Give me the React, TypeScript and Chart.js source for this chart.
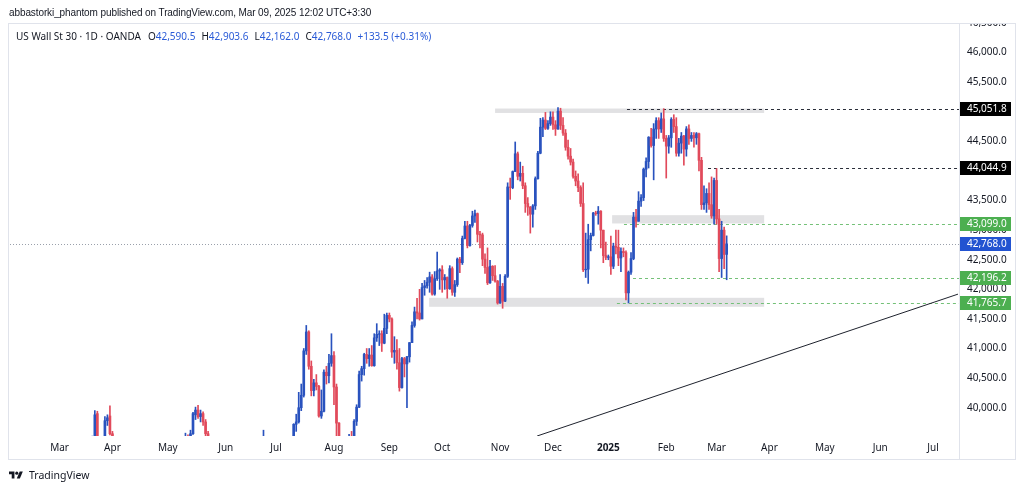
import React, { useEffect, useRef } from "react";
import { Chart, registerables } from "chart.js";

Chart.register(...registerables);

const FONT = "'Noto Sans', 'DejaVu Sans', sans-serif";
const HEAD_FONT = "'Liberation Sans', Arial, sans-serif";

// Daily bars, index 0 = 1 Mar 2024 (weekdays), last = 7 Mar 2025
const opens = [
  39000, 39090, 38990, 38590, 38660, 38790, 38720, 38770, 39000, 39040,
  38900, 38710, 38790, 39110, 39510, 39900, 39480, 39320, 39290, 39780,
  39860, 39560, 39420, 39170, 39130, 38600, 38900, 38890, 38880, 38460,
  38460, 37980, 37740, 37800, 37750, 37780, 37990, 38240, 38500, 38460,
  38090, 38240, 38390, 37820, 37900, 38230, 38680, 38850, 38880, 38890,
  39390, 39510, 39430, 39560, 39880, 39960, 39850, 39900, 39760, 39560,
  39060, 39070, 39100, 38850, 38440, 38110, 38690, 38570, 38710, 38810,
  38890, 38800, 38870, 38750, 38710, 38650, 38590, 38780, 38830, 38850,
  39130, 39150, 39410, 39110, 39130, 39160, 39120, 39170, 39330, 39310,
  39360, 39380, 39340, 39300, 39720, 39760, 40000, 40210, 40960, 41280,
  40700, 40290, 40420, 40360, 39860, 39940, 40600, 40540, 40750, 40880,
  40350, 39740, 38700, 39000, 38760, 39450, 39500, 39360, 39770, 40010,
  40560, 40660, 40900, 40830, 40890, 40710, 41180, 41240, 41250, 41090,
  41340, 41560, 41500, 40940, 40970, 40760, 40340, 40830, 40740, 40860,
  41100, 41390, 41620, 41600, 41500, 42030, 42060, 42120, 42210, 41920,
  42180, 42310, 42330, 42160, 42200, 42010, 42350, 41950, 42080, 42510,
  42450, 42860, 43070, 42740, 43080, 43240, 43280, 42930, 42920, 42510,
  42370, 42110, 42390, 42230, 42140, 41770, 42050, 41800, 42220, 43730,
  43720, 43990, 44290, 43910, 43960, 43750, 43450, 43390, 43270, 43410,
  43870, 44300, 44740, 44860, 44720, 44800, 44910, 44780, 44710, 45010,
  44770, 44640, 44400, 44250, 44150, 43910, 43830, 43720, 43450, 42330,
  42340, 42840, 42910, 43290, 43280, 43320, 43000, 42570, 42540, 42550,
  42390, 42730, 42710, 42530, 42640, 42620, 41940, 42290, 42520, 43220,
  43150, 43490, 43550, 44030, 44160, 44570, 44430, 44710, 44850, 44710,
  44880, 44550, 44420, 44560, 44870, 44750, 44300, 44470, 44590, 44370,
  44710, 44550, 44600, 44560, 44630, 44180, 43430, 43460, 43620, 43430,
  43240, 43840, 43190, 42520, 43000, 42590.5,
];
const highs = [
  39180, 39140, 39010, 38860, 38890, 39000, 38820, 39060, 39140, 39170,
  38960, 38900, 39130, 39520, 39950, 39940, 39500, 39480, 39850, 39880,
  40030, 39600, 39450, 39270, 39440, 38960, 39000, 38990, 38900, 38600,
  38470, 38400, 37920, 38000, 37990, 38000, 38300, 38530, 38560, 38470,
  38340, 38420, 38430, 38260, 38270, 38760, 38890, 38990, 38970, 39390,
  39570, 39540, 39620, 39920, 40010, 40040, 39960, 39930, 39800, 39600,
  39200, 39150, 39120, 38870, 38620, 38710, 38800, 38760, 38850, 38950,
  39000, 38900, 38900, 39100, 38760, 38660, 38800, 38860, 38900, 39200,
  39250, 39620, 39440, 39200, 39250, 39450, 39300, 39350, 39460, 39400,
  39500, 39500, 39450, 39730, 39890, 40260, 40400, 41000, 41390, 41300,
  40790, 40480, 40560, 40380, 40300, 40640, 40700, 40900, 41250, 40950,
  40400, 39750, 39250, 39450, 39470, 39550, 39600, 39800, 40050, 40620,
  40700, 40920, 41000, 41000, 41050, 41250, 41420, 41300, 41300, 41580,
  41600, 41600, 41520, 41200, 41150, 41000, 40850, 40850, 40870, 41100,
  41450, 41700, 41850, 42000, 42100, 42150, 42200, 42290, 42250, 42300,
  42630, 42350, 42400, 42250, 42210, 42400, 42380, 42150, 42530, 42540,
  42900, 43150, 43150, 43100, 43320, 43340, 43290, 42980, 42950, 42600,
  42700, 42490, 42400, 42400, 42150, 42250, 42100, 42250, 43800, 43880,
  44000, 44490, 44320, 44150, 44080, 43800, 43550, 43400, 43430, 43900,
  44330, 44890, 44900, 44990, 44850, 45000, 45000, 44850, 45070, 45060,
  44900, 44700, 44520, 44380, 44200, 44000, 43950, 43750, 43800, 42950,
  43100, 42950, 43300, 43320, 43400, 43330, 43000, 42800, 42580, 42900,
  42780, 43000, 43000, 42700, 42700, 42650, 42310, 42620, 43300, 43350,
  43650, 43600, 44050, 44220, 44580, 44720, 44800, 44900, 44900, 44980,
  45052, 44600, 44600, 44900, 44950, 44900, 44550, 44650, 44600, 44750,
  44780, 44650, 44650, 44650, 44640, 44230, 43750, 43700, 43800, 43900,
  43880, 44040, 43350, 43150, 43050, 42903.6,
];
const lows = [
  38930, 38940, 38520, 38570, 38620, 38650, 38600, 38680, 38950, 38740,
  38700, 38700, 38760, 38990, 39480, 39450, 39300, 39270, 39280, 39700,
  39540, 39380, 39080, 38990, 38570, 38500, 38800, 38650, 38360, 38230,
  37920, 37680, 37620, 37700, 37670, 37610, 37960, 38220, 38320, 37800,
  38050, 38150, 37810, 37780, 37870, 38220, 38640, 38800, 38770, 38870,
  39380, 39360, 39410, 39550, 39800, 39820, 39760, 39700, 39500, 38950,
  38960, 39000, 38750, 38400, 38050, 37990, 38380, 38540, 38600, 38750,
  38680, 38620, 38550, 38680, 38470, 38440, 38450, 38720, 38800, 38830,
  39010, 39140, 39080, 39030, 39060, 39100, 38900, 39050, 39250, 39280,
  39200, 39250, 39240, 39280, 39600, 39740, 39950, 40180, 40900, 40650,
  40200, 40200, 40300, 39840, 39820, 39930, 40400, 40420, 40700, 40050,
  39500, 38400, 38680, 38750, 38750, 39300, 39300, 39350, 39700, 40000,
  40450, 40550, 40750, 40700, 40700, 40700, 41120, 41050, 40950, 41080,
  41250, 41450, 40850, 40750, 40650, 40280, 40330, 40520, 40000, 40770,
  41100, 41360, 41500, 41480, 41500, 41900, 42020, 41950, 41900, 41900,
  42150, 42000, 41950, 42000, 41850, 42000, 41900, 41880, 42050, 42280,
  42420, 42850, 42700, 42730, 43050, 43130, 42800, 42700, 42400, 42270,
  42080, 42100, 42150, 42120, 41750, 41760, 41680, 41790, 42200, 43520,
  43700, 43990, 43850, 43830, 43700, 43300, 43250, 42950, 43050, 43350,
  43860, 44290, 44580, 44700, 44700, 44770, 44700, 44600, 44700, 44700,
  44600, 44350, 44200, 44100, 43880, 43750, 43650, 43400, 42300, 42200,
  42100, 42650, 42900, 43250, 43100, 42700, 42450, 42500, 42500, 42250,
  42350, 42600, 42400, 42300, 42550, 41820, 41770, 42250, 42500, 43050,
  43150, 43400, 43500, 43900, 44050, 44400, 43850, 44550, 44550, 44650,
  44500, 43880, 44300, 44400, 44650, 44250, 44250, 44300, 44100, 44250,
  44450, 44500, 44400, 44450, 44000, 43350, 43350, 43300, 43350, 43200,
  43100, 43100, 42300, 42200, 42350, 42162.0,
];
const closes = [
  39090, 38990, 38590, 38660, 38790, 38720, 38770, 39000, 39040, 38900,
  38710, 38790, 39110, 39510, 39880, 39480, 39320, 39290, 39780, 39830,
  39560, 39420, 39170, 39130, 38600, 38900, 38890, 38880, 38460, 38460,
  37980, 37740, 37800, 37750, 37780, 37990, 38240, 38500, 38460, 38090,
  38240, 38390, 37820, 37900, 38230, 38680, 38850, 38880, 38890, 39390,
  39510, 39430, 39560, 39900, 39960, 39850, 39900, 39760, 39560, 39060,
  39070, 39100, 38850, 38440, 38110, 38690, 38570, 38710, 38810, 38890,
  38800, 38870, 38750, 38710, 38650, 38590, 38780, 38830, 38850, 39130,
  39150, 39410, 39110, 39130, 39160, 39120, 39170, 39330, 39310, 39360,
  39380, 39340, 39290, 39720, 39760, 40000, 40210, 40960, 41280, 40700,
  40290, 40420, 40360, 39860, 39940, 40600, 40540, 40750, 40880, 40350,
  39740, 38700, 39000, 38760, 39450, 39500, 39360, 39770, 40010, 40560,
  40660, 40900, 40830, 40890, 40710, 41180, 41240, 41250, 41090, 41340,
  41560, 41500, 40940, 40970, 40760, 40340, 40830, 40740, 40860, 41100,
  41390, 41620, 41600, 41500, 42030, 42060, 42120, 42210, 41920, 42180,
  42310, 42330, 42160, 42200, 42010, 42350, 41950, 42080, 42510, 42450,
  42860, 43070, 42740, 43080, 43240, 43280, 42930, 42920, 42510, 42370,
  42110, 42390, 42230, 42140, 41770, 42050, 41800, 42220, 43730, 43720,
  43990, 44290, 43910, 43960, 43750, 43450, 43390, 43270, 43410, 43870,
  44300, 44740, 44860, 44720, 44800, 44910, 44780, 44710, 45010, 44770,
  44640, 44400, 44250, 44150, 43910, 43830, 43720, 43450, 42330, 42340,
  42840, 42910, 43290, 43280, 43320, 43000, 42570, 42540, 42550, 42390,
  42730, 42710, 42530, 42640, 42620, 41940, 42290, 42520, 43220, 43150,
  43490, 43550, 44030, 44160, 44570, 44430, 44710, 44850, 44710, 44880,
  44550, 44420, 44560, 44870, 44750, 44300, 44470, 44590, 44370, 44710,
  44550, 44600, 44560, 44630, 44180, 43430, 43460, 43620, 43430, 43240,
  43840, 43190, 42520, 43000, 42590, 42768.0,
];

// Time axis: bar index of the first bar of each month
const monthTickIndex = [0, 21, 43, 66, 86, 109, 131, 152, 175, 196, 218, 241, 261, 282, 304, 326, 347];
const monthTickLabels = ["Mar", "Apr", "May", "Jun", "Jul", "Aug", "Sep", "Oct", "Nov", "Dec", "2025", "Feb", "Mar", "Apr", "May", "Jun", "Jul"];

// Price axis ticks
const priceTicks = [40000, 40500, 41000, 41500, 42000, 42500, 43000, 43500, 44000, 44500, 45000, 45500, 46000, 46500];

// Horizontal levels (price, start bar index, colour kind)
const levelPrices = [45051.8, 44044.9, 43099.0, 42196.2, 41765.7];
const levelStart = [225.4, 257.6, 224.2, 227.8, 221.4];
const levelKind = ["black", "black", "green", "green", "green"];
const lastPrice = 42768.0;

// Grey zones
const zoneLow = [44980, 43113, 41705];
const zoneHigh = [45055, 43253, 41857];
const zoneStart = [173.0, 219.5, 146.8];
const zoneEnd = [279.9, 279.9, 279.9];

// Trend line anchors (bar index, price)
const trendX = [189.7, 356.9];
const trendY = [39522, 41919];

const headerLine1 = "abbastorki_phantom published on TradingView.com, Mar 09, 2025 12:02 UTC+3:30";
const symbolText = "US Wall St 30 · 1D · OANDA";
const ohlcKeys = ["O", "H", "L", "C"];
const ohlcVals = ["42,590.5", "42,903.6", "42,162.0", "42,768.0"];
const changeText = "+133.5 (+0.31%)";

const UP = "#2952be";
const DOWN = "#e14a5b";
const GREEN = "#4caf50";
const BLACK = "#000000";
const BLUE_LABEL = "#2253d1";
const TEXT = "#131722";

const fmt = (v: number) =>
  v.toLocaleString("en-US", { minimumFractionDigits: 1, maximumFractionDigits: 1 });

const overlayPlugin = {
  id: "tvOverlay",
  beforeDatasetsDraw(chart: any) {
    const { ctx, chartArea, scales } = chart;
    const x = scales.x;
    const y = scales.y;
    ctx.save();
    ctx.beginPath();
    ctx.rect(chartArea.left, chartArea.top, chartArea.right - chartArea.left, chartArea.bottom - chartArea.top);
    ctx.clip();
    ctx.fillStyle = "#e1e1e3";
    for (let k = 0; k < zoneLow.length; k++) {
      const x1 = x.getPixelForValue(zoneStart[k]);
      const x2 = x.getPixelForValue(zoneEnd[k]);
      const y1 = y.getPixelForValue(zoneHigh[k]);
      const y2 = y.getPixelForValue(zoneLow[k]);
      ctx.fillRect(x1, y1, x2 - x1, y2 - y1);
    }
    const yl = Math.round(y.getPixelForValue(lastPrice)) + 0.5;
    ctx.strokeStyle = "#9aa0ab";
    ctx.lineWidth = 1;
    ctx.setLineDash([1, 2]);
    ctx.beginPath();
    ctx.moveTo(chartArea.left, yl);
    ctx.lineTo(chartArea.right, yl);
    ctx.stroke();
    for (let k = 0; k < levelPrices.length; k++) {
      const yy = Math.round(y.getPixelForValue(levelPrices[k])) + 0.5;
      const xs = x.getPixelForValue(levelStart[k]);
      ctx.strokeStyle = levelKind[k] === "black" ? "#2a2e39" : "#74c178";
      ctx.setLineDash([3, 3]);
      ctx.beginPath();
      ctx.moveTo(xs, yy);
      ctx.lineTo(chartArea.right, yy);
      ctx.stroke();
    }
    ctx.restore();
  },
  afterDraw(chart: any) {
    const { ctx, chartArea, scales } = chart;
    const y = scales.y;
    ctx.save();
    ctx.fillStyle = "#ffffff";
    ctx.fillRect(chartArea.right, 0, chart.width - chartArea.right, chartArea.top);
    ctx.font = `10px ${FONT}`;
    ctx.textBaseline = "middle";
    ctx.textAlign = "left";
    const drawLabel = (price: number, bg: string) => {
      const yc = Math.round(y.getPixelForValue(price));
      ctx.fillStyle = bg;
      ctx.fillRect(chartArea.right + 1, yc - 7, 51, 14);
      ctx.fillStyle = "#ffffff";
      ctx.fillText(fmt(price), chartArea.right + 8, yc + 0.5);
    };
    for (let k = 0; k < levelPrices.length; k++) {
      drawLabel(levelPrices[k], levelKind[k] === "black" ? BLACK : GREEN);
    }
    drawLabel(lastPrice, BLUE_LABEL);
    ctx.strokeStyle = "#e0e3eb";
    ctx.lineWidth = 1;
    ctx.setLineDash([]);
    ctx.strokeRect(8.5, chartArea.top + 0.5, 1007, 459 - chartArea.top);
    ctx.beginPath();
    ctx.moveTo(Math.round(chartArea.right) + 0.5, chartArea.top);
    ctx.lineTo(Math.round(chartArea.right) + 0.5, 459);
    ctx.stroke();
    ctx.restore();
  },
};

export default function App() {
  const ref = useRef<HTMLCanvasElement>(null);
  useEffect(() => {
    const idx = closes.map((_, i) => i);
    const colors = idx.map((i) => (closes[i] >= opens[i] ? UP : DOWN));
    const chart = new Chart(ref.current as HTMLCanvasElement, {
      type: "bar",
      data: {
        datasets: [
          {
            type: "bar",
            data: idx.map((i) => ({ x: i, y: [opens[i], closes[i]] })) as any,
            backgroundColor: colors,
            barThickness: 2,
            grouped: false,
            borderWidth: 0,
            clip: 0,
          } as any,
          {
            type: "bar",
            data: idx.map((i) => ({ x: i, y: [lows[i], highs[i]] })) as any,
            backgroundColor: colors,
            barThickness: 1,
            grouped: false,
            borderWidth: 0,
            clip: 0,
          } as any,
          {
            type: "line",
            data: trendX.map((v, k) => ({ x: v, y: trendY[k] })) as any,
            borderColor: "#1e222d",
            borderWidth: 1,
            pointRadius: 0,
            clip: 0,
          } as any,
        ],
      },
      options: {
        animation: false,
        responsive: false,
        maintainAspectRatio: false,
        layout: { padding: { top: 23, left: 10, right: 9, bottom: 32 } },
        plugins: { legend: { display: false }, tooltip: { enabled: false } },
        scales: {
          x: {
            type: "linear",
            min: -19.7,
            max: 357.3,
            offset: false,
            grid: { display: false, drawTicks: false },
            border: { display: false },
            afterBuildTicks: (scale: any) => {
              scale.ticks = monthTickIndex.map((v) => ({ value: v }));
            },
            afterFit: (scale: any) => {
              scale.height = 22;
            },
            ticks: {
              autoSkip: false,
              maxRotation: 0,
              padding: 6,
              color: TEXT,
              font: (c: any) => ({
                family: FONT,
                size: 10,
                weight: c.tick && monthTickLabels[monthTickIndex.indexOf(c.tick.value)] === "2025" ? "bold" : "normal",
              }),
              callback: (v: any) => {
                const k = monthTickIndex.indexOf(Number(v));
                return k >= 0 ? monthTickLabels[k] : "";
              },
            },
          },
          y: {
            type: "linear",
            position: "right",
            min: 39522,
            max: 46500,
            grid: { display: false, drawTicks: false },
            border: { display: false },
            afterBuildTicks: (scale: any) => {
              scale.ticks = priceTicks.map((v) => ({ value: v }));
            },
            afterFit: (scale: any) => {
              scale.width = 56;
            },
            ticks: {
              autoSkip: false,
              padding: 8,
              color: TEXT,
              font: { family: FONT, size: 10 },
              callback: (v: any) => fmt(Number(v)),
            },
          },
        },
      } as any,
      plugins: [overlayPlugin],
    });
    return () => chart.destroy();
  }, []);

  return (
    <div
      style={{
        position: "fixed",
        left: 0,
        top: 0,
        width: 1024,
        height: 490,
        background: "#ffffff",
        overflow: "hidden",
        fontFamily: FONT,
        color: TEXT,
      }}
    >
      <canvas ref={ref} width={1024} height={490} style={{ position: "absolute", left: 0, top: 0 }} />
      <div style={{ position: "absolute", left: 9, top: 5, fontFamily: HEAD_FONT, fontSize: 10, letterSpacing: "-0.1px", lineHeight: "16px", whiteSpace: "nowrap" }}>
        {headerLine1}
      </div>
      <div style={{ position: "absolute", left: 16, top: 28, fontSize: 10, lineHeight: "16px", whiteSpace: "nowrap" }}>
        <span>{symbolText}</span>
        {ohlcKeys.map((k, i) => (
          <span key={k} style={{ marginLeft: i === 0 ? 7 : 6 }}>
            {k}
            <span style={{ color: "#2a5bd7" }}>{ohlcVals[i]}</span>
          </span>
        ))}
        <span style={{ marginLeft: 6, color: "#2a5bd7" }}>{changeText}</span>
      </div>
      <div style={{ position: "absolute", left: 9, top: 468, display: "flex", alignItems: "center", whiteSpace: "nowrap" }}>
        <svg width="14" height="11" viewBox="0 0 36 28" style={{ display: "block" }}>
          <path d="M14 22H7V11H0V4h14v18z" fill="#131722" />
          <circle cx="20" cy="8" r="4" fill="#131722" />
          <path d="M28 22h-8l7.5-18h8L28 22z" fill="#131722" />
        </svg>
        <span style={{ marginLeft: 6, fontSize: 10.5, lineHeight: "14px" }}>TradingView</span>
      </div>
    </div>
  );
}
